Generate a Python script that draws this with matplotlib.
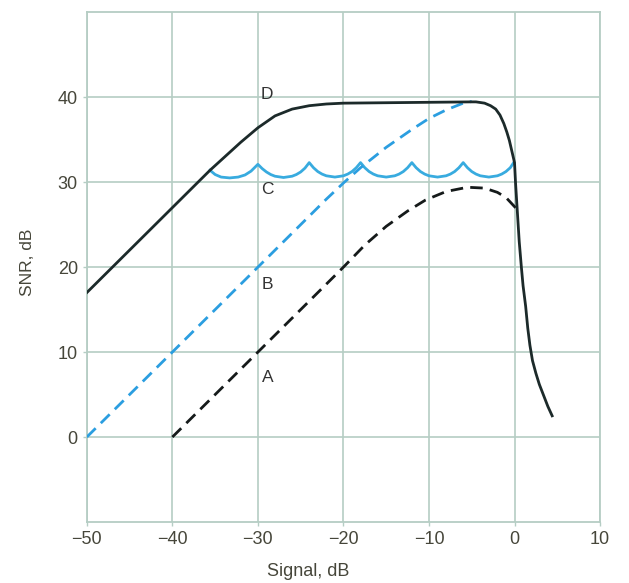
import numpy as np
import matplotlib.pyplot as plt

# curve D (solid, dark)
d_x = [-50, -40, -35.6, -32, -30, -28, -26, -24, -22, -20, -15, -10, -5, -4.5, -3.5, -2.8, -2.2,
       -1.7, -1.25, -0.9, -0.6, -0.3, 0.0, 0.12, 0.3, 0.55, 0.8, 1.0, 1.3, 1.55, 1.8, 2.1, 2.5,
       2.9, 3.4, 3.9, 4.4]
d_y = [17, 27, 31.4, 34.7, 36.4, 37.8, 38.6, 39.0, 39.2, 39.3, 39.35, 39.4, 39.45, 39.45, 39.3, 39.0, 38.6,
       37.9, 36.9, 35.9, 34.9, 33.6, 32.3, 29.9, 27.0, 23.0, 20.0, 17.8, 15.4, 12.8, 10.8, 9.0, 7.5,
       6.2, 4.9, 3.6, 2.5]

# curve C (scalloped, light blue)
c_x = [-35.6, -35.0, -34.3, -33.3, -32.3, -31.5, -30.8, -30.0,
       -29.5, -29.0, -28.5, -28.0, -27.0, -26.0, -25.5, -25.0, -24.5, -24.0,
       -23.5, -23.0, -22.5, -22.0, -21.0, -20.0, -19.5, -19.0, -18.5, -18.0,
       -17.5, -17.0, -16.5, -16.0, -15.0, -14.0, -13.5, -13.0, -12.5, -12.0,
       -11.5, -11.0, -10.5, -10.0, -9.0, -8.0, -7.5, -7.0, -6.5, -6.0,
       -5.5, -5.0, -4.5, -4.0, -3.0, -2.0, -1.5, -1.0, -0.5, -0.1]
c_y = [31.4, 30.9, 30.6, 30.5, 30.6, 30.85, 31.3, 32.1,
       31.6, 31.2, 30.9, 30.7, 30.55, 30.7, 30.9, 31.2, 31.65, 32.3,
       31.7, 31.25, 30.95, 30.75, 30.6, 30.75, 30.95, 31.25, 31.7, 32.3,
       31.7, 31.25, 30.95, 30.75, 30.6, 30.75, 30.95, 31.25, 31.7, 32.3,
       31.7, 31.25, 30.95, 30.75, 30.6, 30.75, 30.95, 31.25, 31.7, 32.3,
       31.7, 31.25, 30.95, 30.75, 30.6, 30.75, 30.95, 31.25, 31.7, 32.3]

# curve B (dashed, blue)
b_x = [-50, -30, -22, -20, -18, -15, -12, -10, -8, -6, -5]
b_y = [0, 20, 28, 29.9, 31.7, 34.1, 36.2, 37.5, 38.5, 39.3, 39.5]

# curve A (dashed, black)
a_x = [-40, -20, -17.5, -15, -12.5, -10.4, -8, -5.5, -3.5, -2, -1, 0.3]
a_y = [0, 20, 22.6, 24.8, 26.6, 27.9, 28.9, 29.4, 29.3, 28.8, 28.2, 26.8]

labels = ['D', 'C', 'B', 'A']
label_x = [-28.9, -28.9, -28.9, -28.8]
label_y = [40.3, 29.1, 18.0, 7.0]

plt.rcParams['font.family'] = ['Liberation Sans', 'DejaVu Sans']

grid_col = '#b5cdc4'
text_col = '#46463a'

fig = plt.figure(figsize=(6.29, 5.83), dpi=100)
ax = fig.add_axes([0.138, 0.1046, 0.816, 0.8744])

ax.plot(d_x, d_y, color='#1c2a2a', lw=2.0, zorder=4)
ax.plot(c_x, c_y, color='#38abdf', lw=2.0, zorder=3)
ax.plot(b_x, b_y, color='#2b9ee0', lw=2.0, dashes=(4.5, 2.6), zorder=3)
ax.plot(a_x, a_y, color='#151a1a', lw=2.0, dashes=(4.5, 2.6), zorder=3)

for t, x, y in zip(labels, label_x, label_y):
    ax.text(x, y, t, fontsize=12.5, color='#333333', ha='center', va='center', zorder=5)

ax.set_xlim(-50, 10)
ax.set_ylim(-10, 50)
ax.set_xticks(np.arange(-50, 11, 10))
ax.set_yticks(np.arange(0, 41, 10))
ax.grid(True, color=grid_col, lw=1.2)
ax.set_axisbelow(True)
for s in ax.spines.values():
    s.set_color(grid_col)
    s.set_linewidth(1.3)
ax.tick_params(colors=grid_col, labelcolor=text_col, labelsize=13, length=3, width=1)

ax.set_xlabel('Signal, dB', fontsize=13, color=text_col)
ax.xaxis.set_label_coords(0.431, -0.080)
ax.set_ylabel('SNR, dB', fontsize=12.5, color=text_col)
ax.yaxis.set_label_coords(-0.10, 0.51)

fig.savefig('out.png', dpi=100)
